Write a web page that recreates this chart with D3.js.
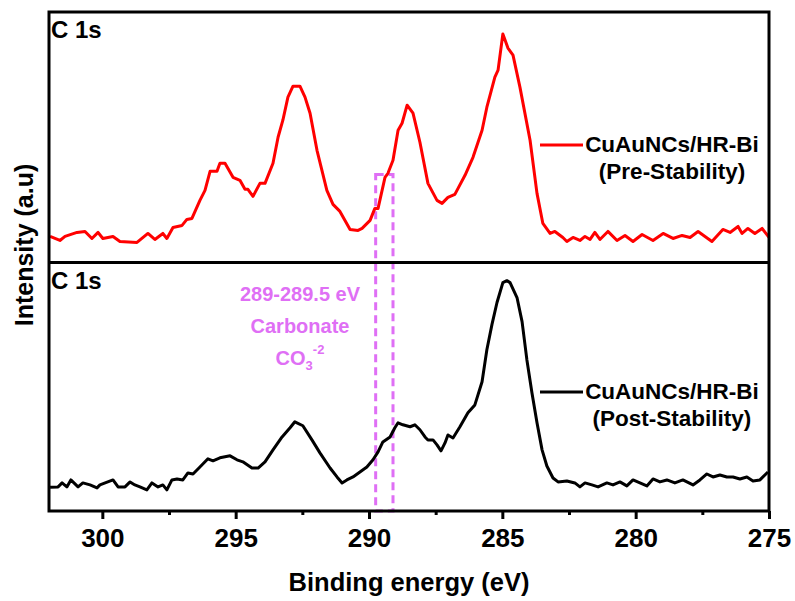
<!DOCTYPE html>
<html>
<head>
<meta charset="utf-8">
<script src="https://cdn.jsdelivr.net/npm/d3@7"></script>
<style>
  body { margin: 0; background: #fff; }
  text { font-family: Arial, "Liberation Sans", sans-serif; font-weight: bold; }
</style>
</head>
<body>
<svg id="chart" width="795" height="601"></svg>
<script>
// binding energy (eV) and intensity (a.u.)
const preEnergy = [301.96,301.59,301.40,300.95,300.65,300.39,300.16,299.98,299.60,299.34,298.70,298.29,298.03,297.73,297.58,297.35,297.01,296.83,296.64,296.34,296.15,295.96,295.70,295.59,295.40,295.10,294.84,294.65,294.54,294.35,294.09,293.90,293.60,293.41,293.23,293.04,292.85,292.59,292.40,292.21,291.95,291.58,291.35,291.09,290.71,290.41,290.26,289.96,289.78,289.66,289.40,289.29,289.10,288.91,288.76,288.57,288.35,288.09,287.79,287.45,287.26,287.04,286.78,286.40,286.10,285.76,285.58,285.28,285.16,284.98,284.79,284.60,284.34,283.96,283.70,283.48,283.21,283.03,282.73,282.58,282.35,282.09,281.90,281.71,281.53,281.34,281.04,280.70,280.40,280.10,279.76,279.35,278.97,278.60,278.26,277.96,277.66,277.14,276.73,276.46,276.16,276.01,275.79,275.53,275.26,275.00];
const preIntensity = [10.4,8.8,10.4,12,12.4,9.6,12,9.6,10.4,8.4,8,11.6,9.2,11.6,9.6,14,14.8,17.2,17.6,24.8,28.8,36.4,36.4,39.6,39.6,34,32.8,29.2,29.2,26.4,31.6,31.6,39.6,50,56.8,66,70.4,70.4,66,59.6,44.8,28.8,23.2,20.4,13.2,12.8,13.6,16.8,21.6,21.6,34,35.6,40.8,52.8,55.6,62.8,59.6,48,31.6,24.8,23.6,26,27.2,34.8,42,52.8,62,74,76.8,91.2,85.6,82.8,70,48.8,27.6,15.6,11.6,12.4,10,8.4,10,8.8,10.4,9.2,12,9.2,12.4,8.8,10.8,8.4,11.2,8.8,11.6,9.6,10.8,10,12.4,8.4,13.2,12,14.4,11.6,13.6,11.6,13.6,10];

const postEnergy = [301.96,301.66,301.51,301.33,301.18,300.91,300.73,300.46,300.20,300.09,299.60,299.41,299.15,298.96,298.78,298.59,298.33,298.14,297.91,297.73,297.58,297.39,297.20,296.98,296.79,296.60,296.34,296.04,295.85,295.59,295.21,294.95,294.73,294.39,294.16,293.90,293.60,293.26,292.96,292.78,292.48,292.14,291.84,291.46,291.20,291.01,290.83,290.60,290.34,290.08,289.85,289.66,289.48,289.21,289.03,288.91,288.73,288.46,288.28,288.09,287.90,287.79,287.60,287.45,287.30,287.15,287.04,286.85,286.59,286.29,286.03,285.76,285.58,285.39,285.20,284.98,284.83,284.71,284.45,284.26,284.08,283.89,283.70,283.51,283.33,283.10,282.91,282.58,282.28,282.09,281.90,281.64,281.41,281.08,280.85,280.59,280.33,280.10,279.84,279.58,279.35,279.09,278.83,278.53,278.23,277.85,277.59,277.33,277.10,276.84,276.58,276.35,276.09,275.83,275.60,275.34,275.04];
const postIntensity = [9.6,9.7,11.3,9.7,12.5,9.7,11.3,10.5,9.3,10.5,12.5,9.7,9.7,11.7,10.5,9.7,8.5,11.3,9.7,10.5,8.5,12.5,12.9,12.5,15.3,14.9,17.7,21,20.2,21.4,22.2,20.6,19.8,17.3,17.3,19.8,24.6,29.8,33.5,35.9,34.3,28.6,23.4,17.3,13.7,11.3,12.5,13.7,15.7,17.7,20.6,23.8,27.8,29.8,33.5,35.5,34.7,33.9,34.7,32.7,29.8,28.6,28.6,26.6,24.2,27.4,30.6,29.4,33.9,39.5,42.7,52,64.9,75,83.9,91.9,92.7,91.9,85.9,76.2,60.9,47.6,35.5,24.6,18.1,13.3,11.7,12.1,11.3,9.7,11.3,10.5,9.7,11.3,10.5,11.7,10.1,12.5,11.3,10.1,12.9,11.7,12.5,11.3,12.5,10.5,12.5,14.9,13.7,14.5,13.7,13.7,12.9,13.7,12.1,12.5,15.7];

const xTicks = [300, 295, 290, 285, 280, 275];
const xMinorTicks = [297.5, 292.5, 287.5, 282.5, 277.5];
const carbonateBand = [289.75, 289.1];
const annotationLines = ["289-289.5 eV", "Carbonate"];

const svg = d3.select('#chart');
const plotLeft = 49, plotRight = 769, plotTop = 12, plotMid = 262.5, plotBottom = 511;
const violet = '#df6ff5';

const x = d3.scaleLinear().domain([302, 275]).range([plotLeft, plotRight]);
const yTop = d3.scaleLinear().domain([0, 100]).range([plotMid, plotTop]);
const yBot = d3.scaleLinear().domain([0, 100]).range([plotBottom, plotMid]);

const lineTop = d3.line().x((d, i) => x(preEnergy[i])).y(d => yTop(d));
const lineBot = d3.line().x((d, i) => x(postEnergy[i])).y(d => yBot(d));

// carbonate band (dashed box), drawn under the curves
svg.append('rect')
    .attr('x', x(carbonateBand[0]))
    .attr('y', 174.5)
    .attr('width', x(carbonateBand[1]) - x(carbonateBand[0]))
    .attr('height', plotBottom - 174.5)
    .attr('fill', 'none')
    .attr('stroke', violet)
    .attr('stroke-width', 3)
    .attr('stroke-dasharray', '8,5');

svg.append('path').datum(preIntensity)
    .attr('d', lineTop)
    .attr('fill', 'none')
    .attr('stroke', '#ff0000')
    .attr('stroke-width', 3)
    .attr('stroke-linejoin', 'round');

svg.append('path').datum(postIntensity)
    .attr('d', lineBot)
    .attr('fill', 'none')
    .attr('stroke', '#000')
    .attr('stroke-width', 3)
    .attr('stroke-linejoin', 'round');

// frames
svg.append('rect')
    .attr('x', plotLeft).attr('y', plotTop)
    .attr('width', plotRight - plotLeft).attr('height', plotBottom - plotTop)
    .attr('fill', 'none').attr('stroke', '#000').attr('stroke-width', 3);
svg.append('line')
    .attr('x1', plotLeft).attr('x2', plotRight).attr('y1', plotMid).attr('y2', plotMid)
    .attr('stroke', '#000').attr('stroke-width', 3);

// x axis
const xAxis = svg.append('g')
    .attr('transform', `translate(0,${plotBottom})`)
    .call(d3.axisBottom(x).tickValues(xTicks).tickSize(8).tickPadding(10).tickFormat(d3.format('d')));
xAxis.select('.domain').remove();
xAxis.selectAll('.tick line').attr('stroke-width', 3);
xAxis.selectAll('.tick text')
    .attr('font-size', 26)
    .attr('font-family', 'Arial, "Liberation Sans", sans-serif')
    .attr('font-weight', 'bold')
    .attr('fill', '#000');

svg.append('g')
    .attr('transform', `translate(0,${plotBottom})`)
    .call(d3.axisBottom(x).tickValues(xMinorTicks).tickSize(4).tickFormat(''))
    .call(g => g.select('.domain').remove())
    .selectAll('.tick line').attr('stroke-width', 3);

svg.append('text')
    .attr('x', (plotLeft + plotRight) / 2)
    .attr('y', 591)
    .attr('text-anchor', 'middle')
    .attr('font-size', 25.5)
    .text('Binding energy (eV)');

svg.append('text')
    .attr('transform', 'translate(33,245) rotate(-90)')
    .attr('text-anchor', 'middle')
    .attr('font-size', 25)
    .text('Intensity (a.u)');

// panel labels
svg.append('text').attr('x', 51).attr('y', 38).attr('font-size', 24).text('C 1s');
svg.append('text').attr('x', 51).attr('y', 289).attr('font-size', 24).text('C 1s');

// legends
function legend(y0, color, lines) {
    svg.append('line')
        .attr('x1', 540).attr('x2', 583)
        .attr('y1', y0 - 7).attr('y2', y0 - 7)
        .attr('stroke', color).attr('stroke-width', 3);
    lines.forEach((t, i) => {
        svg.append('text')
            .attr('x', 672).attr('y', y0 + i * 27)
            .attr('text-anchor', 'middle')
            .attr('font-size', 22.5)
            .text(t);
    });
}
legend(152, '#ff0000', ['CuAuNCs/HR-Bi', '(Pre-Stability)']);
legend(399, '#000', ['CuAuNCs/HR-Bi', '(Post-Stability)']);

// carbonate annotation
annotationLines.forEach((t, i) => {
    svg.append('text')
        .attr('x', 300).attr('y', 301 + i * 32)
        .attr('text-anchor', 'middle')
        .attr('font-size', 20)
        .attr('fill', violet)
        .text(t);
});
const co3 = svg.append('text')
    .attr('x', 300).attr('y', 365)
    .attr('text-anchor', 'middle')
    .attr('font-size', 20)
    .attr('fill', violet);
co3.append('tspan').text('CO');
co3.append('tspan').attr('font-size', 13).attr('dy', 5).text('3');
co3.append('tspan').attr('font-size', 13).attr('dy', -16).text('-2');
</script>
</body>
</html>
